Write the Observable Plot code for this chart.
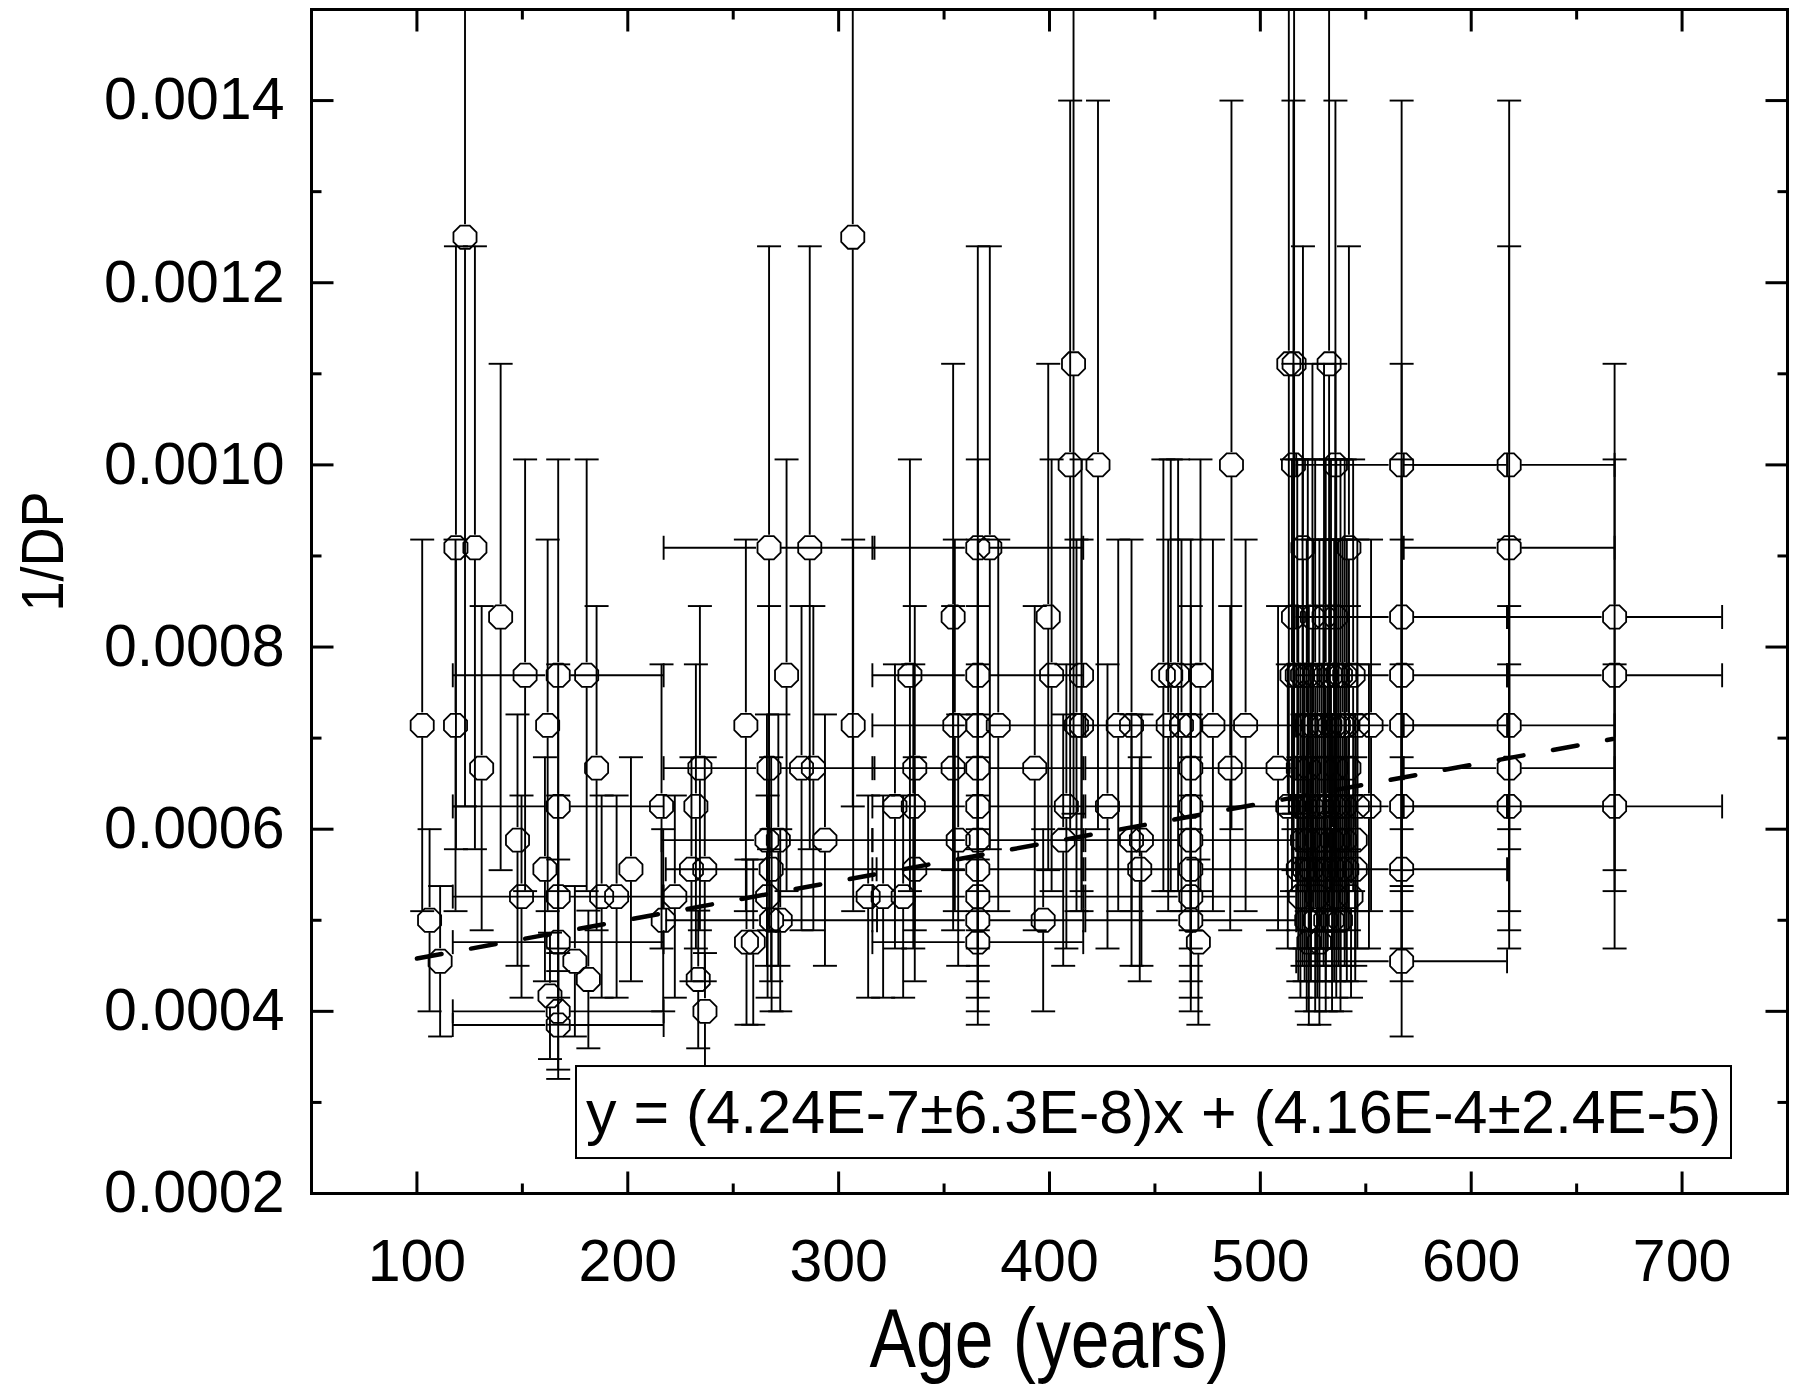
<!DOCTYPE html>
<html>
<head>
<meta charset="utf-8">
<script src="https://cdn.jsdelivr.net/npm/d3@7"></script>
<script src="https://cdn.jsdelivr.net/npm/@observablehq/plot@0.6"></script>
<style>
  html, body { margin: 0; padding: 0; background: #fff; }
</style>
</head>
<body>
<div id="chart"></div>
<script>
// ---------- data ----------
// Samples with a precise age (no horizontal error bar)
const sampleAge = [
  102.5, 106, 111, 118.5, 118.3, 122.8, 127.5, 130.7, 139.7, 147.7, 149.6, 151.3, 160.7, 162, 163.1,
  174.9, 180.5, 181.3, 185.2, 187.6, 194.7, 201.5, 216, 216.8, 222.3, 230.2, 232.3,
  233.4, 234.2, 236.5, 236.6, 256, 256.3, 259.5,
  271.4, 272.3, 275.3, 282.4, 286.3, 288, 293.5, 306.7, 306.9, 314, 321.1, 326.7, 330.6, 333.8, 335.4, 336.1, 336.1, 354.3, 354.3, 355.1, 356.7,
  371.7, 375.7, 393, 397, 399.4, 401, 406.5, 408, 409.8, 411.4, 412.8, 415.2, 415.2, 423, 427.5, 432.6, 438.9, 438.9, 443.6, 442.8, 454, 457.5, 461, 456.3, 462.6,
  470.6, 471.6, 477.5, 485.7, 486.3, 493, 508.4,
  513.5, 516, 532.6,
  515.7, 535.6,
  520.2, 542,
  515.7, 524.7, 530.2, 535.6,
  515, 517.5, 520, 522.5, 526, 531, 533.5, 536, 538, 540, 544,
  522, 525, 528, 530, 533, 535, 537, 539, 541, 546, 552.5,
  518, 523, 530, 536, 542,
  513, 519, 521, 524, 527, 529, 532, 535, 537, 540, 546, 551.5,
  520, 523, 527, 530, 534, 537, 540, 545,
  518, 521, 524, 528, 531, 535, 538, 541, 545,
  519, 527, 536, 543,
  522, 526, 531, 534, 538,
  523, 528
];
const sampleInvDP = [
  0.000714, 0.0005, 0.000455, 0.000909, 0.000714, 0.00125, 0.000909, 0.000667, 0.000833, 0.000588, 0.000526, 0.000769, 0.000556, 0.000714, 0.000417,
  0.000455, 0.000769, 0.000435, 0.000667, 0.000526, 0.000526, 0.000556, 0.000625, 0.0005, 0.000526, 0.000556, 0.000625,
  0.000435, 0.000667, 0.000556, 0.0004, 0.000714, 0.000476, 0.000476,
  0.000588, 0.0005, 0.000769, 0.000667, 0.000909, 0.000667, 0.000588, 0.00125, 0.000714, 0.000526, 0.000526, 0.000625, 0.000526, 0.000769, 0.000625, 0.000667, 0.000556, 0.000833, 0.000667, 0.000714, 0.000588,
  0.000909, 0.000714, 0.000667, 0.0005, 0.000833, 0.000769, 0.000588, 0.000625, 0.001, 0.001111, 0.000714, 0.000714, 0.000769, 0.001, 0.000625, 0.000714, 0.000714, 0.000588, 0.000588, 0.000556, 0.000769, 0.000769, 0.000769, 0.000714, 0.000714,
  0.000476, 0.000769, 0.000714, 0.000667, 0.001, 0.000714, 0.000667,
  0.001111, 0.001111, 0.001111,
  0.001, 0.001,
  0.000909, 0.000909,
  0.000833, 0.000833, 0.000833, 0.000833,
  0.000769, 0.000769, 0.000769, 0.000769, 0.000769, 0.000769, 0.000769, 0.000769, 0.000769, 0.000769, 0.000769,
  0.000714, 0.000714, 0.000714, 0.000714, 0.000714, 0.000714, 0.000714, 0.000714, 0.000714, 0.000714, 0.000714,
  0.000667, 0.000667, 0.000667, 0.000667, 0.000667,
  0.000625, 0.000625, 0.000625, 0.000625, 0.000625, 0.000625, 0.000625, 0.000625, 0.000625, 0.000625, 0.000625, 0.000625,
  0.000588, 0.000588, 0.000588, 0.000588, 0.000588, 0.000588, 0.000588, 0.000588,
  0.000556, 0.000556, 0.000556, 0.000556, 0.000556, 0.000556, 0.000556, 0.000556, 0.000556,
  0.000526, 0.000526, 0.000526, 0.000526,
  0.0005, 0.0005, 0.0005, 0.0005, 0.0005,
  0.000476, 0.000476
];

// Samples dated to an age range (horizontal error bar)
const groupAge = [
  167, 167, 167, 167, 167, 167,
  267, 267, 266, 268, 266.3, 268.2,
  366, 366, 366, 366, 366, 366, 366, 366, 366, 366,
  467, 467, 467, 467, 467, 467, 467,
  567, 567, 567, 567, 567, 567, 567,
  618, 618, 618, 618, 618,
  668, 668, 668
];
const groupInvDP = [
  0.000769, 0.000625, 0.000526, 0.000476, 0.0004, 0.000385,
  0.000909, 0.000667, 0.000588, 0.000556, 0.000526, 0.0005,
  0.000909, 0.000769, 0.000714, 0.000667, 0.000625, 0.000588, 0.000556, 0.000526, 0.0005, 0.000476,
  0.000714, 0.000667, 0.000625, 0.000588, 0.000556, 0.000526, 0.0005,
  0.001, 0.000833, 0.000769, 0.000714, 0.000625, 0.000556, 0.000455,
  0.001, 0.000909, 0.000714, 0.000667, 0.000625,
  0.000833, 0.000769, 0.000625
];
const groupAgeErr = [
  50, 50, 50, 50, 50, 50,
  50, 50, 50, 50, 50, 50,
  50, 50, 50, 50, 50, 50, 50, 50, 50, 50,
  50, 50, 50, 50, 50, 50, 50,
  50, 50, 50, 50, 50, 50, 50,
  50, 50, 50, 50, 50,
  51, 51, 51
];

const dpLevels   = [0.00125, 0.001111, 0.001, 0.000909, 0.000833, 0.000769, 0.000714, 0.000667, 0.000625, 0.000588, 0.000556, 0.000526, 0.0005, 0.000476, 0.000455, 0.000435, 0.000417, 0.0004, 0.000385];
const dpLevelErr = [0.000625, 0.000494, 0.0004, 0.000331, 0.000278, 0.000237, 0.000204, 0.000178, 0.000156, 0.000138, 0.000123, 0.000111, 0.0001, 0.0000907, 0.0000826, 0.0000756, 0.0000694, 0.000064, 0.0000592];

// Linear fit drawn across the data range
const fitAge = [100, 667];
const fitInvDP = [0.000458, 0.000699];
const fitLabel = "y = (4.24E-7\u00b16.3E-8)x + (4.16E-4\u00b12.4E-5)";

// Axes
const xDomain = [50, 750];
const yDomain = [0.0002, 0.0015];
const xMajorTicks = [100, 200, 300, 400, 500, 600, 700];
const xMinorTicks = [150, 250, 350, 450, 550, 650];
const yMajorTicks = [0.0002, 0.0004, 0.0006, 0.0008, 0.0010, 0.0012, 0.0014];
const yMinorTicks = [0.0003, 0.0005, 0.0007, 0.0009, 0.0011, 0.0013, 0.0015];
const xTitle = "Age (years)";
const yTitle = "1/DP";

// ---------- build ----------
const errOf = (v) => dpLevelErr[dpLevels.indexOf(v)];
const samples = sampleAge.map((a, i) => ({age: a, y: sampleInvDP[i], e: errOf(sampleInvDP[i]), ex: 0}));
const groups = groupAge.map((a, i) => ({age: a, y: groupInvDP[i], e: errOf(groupInvDP[i]), ex: groupAgeErr[i]}));
const points = samples.concat(groups);
const fitData = fitAge.map((a, i) => ({age: a, y: fitInvDP[i]}));

const rad = (size) => Math.sqrt(size / Math.PI);
const octagon = {draw(ctx, size) {
  const r = rad(size);
  for (let k = 0; k < 8; ++k) {
    const a = Math.PI / 8 + k * Math.PI / 4;
    const px = r * Math.cos(a), py = r * Math.sin(a);
    if (k === 0) ctx.moveTo(px, py); else ctx.lineTo(px, py);
  }
  ctx.closePath();
}};
const hCap = {draw(ctx, size) { const r = rad(size); ctx.moveTo(-r, 0); ctx.lineTo(r, 0); }};
const vCap = {draw(ctx, size) { const r = rad(size); ctx.moveTo(0, -r); ctx.lineTo(0, r); }};
const tickUp = {draw(ctx, size) { const r = rad(size); ctx.moveTo(0, 0); ctx.lineTo(0, -r); }};
const tickDown = {draw(ctx, size) { const r = rad(size); ctx.moveTo(0, 0); ctx.lineTo(0, r); }};
const tickRight = {draw(ctx, size) { const r = rad(size); ctx.moveTo(0, 0); ctx.lineTo(r, 0); }};
const tickLeft = {draw(ctx, size) { const r = rad(size); ctx.moveTo(0, 0); ctx.lineTo(-r, 0); }};

const SYM = 12.5;      // marker radius
const CAP = 12;        // half-width of caps
const EW = 1.9;        // error bar stroke width
const FONT = '"Liberation Sans", Arial, Helvetica, sans-serif';

const tickMarks = (vals, opts) => Plot.dot(vals, {fill: "none", stroke: "black", strokeWidth: 3, ...opts});

const plot = Plot.plot({
  width: 1794,
  height: 1396,
  marginLeft: 311,
  marginRight: 7,
  marginTop: 9,
  marginBottom: 203,
  style: {background: "white", fontFamily: FONT, color: "black"},
  x: {domain: xDomain},
  y: {domain: yDomain},
  marks: [
    // vertical error bars (gap at the symbol)
    Plot.ruleX(points, {x: "age", y1: d => d.y + d.e, y2: "y", insetBottom: SYM, stroke: "black", strokeWidth: EW, clip: true}),
    Plot.ruleX(points, {x: "age", y1: "y", y2: d => d.y - d.e, insetTop: SYM, stroke: "black", strokeWidth: EW, clip: true}),
    Plot.dot(points, {x: "age", y: d => d.y + d.e, symbol: hCap, r: CAP, fill: "none", stroke: "black", strokeWidth: EW, clip: true}),
    Plot.dot(points, {x: "age", y: d => d.y - d.e, symbol: hCap, r: CAP, fill: "none", stroke: "black", strokeWidth: EW, clip: true}),
    // horizontal error bars
    Plot.ruleY(groups, {y: "y", x1: d => d.age - d.ex, x2: "age", insetRight: SYM, stroke: "black", strokeWidth: EW, clip: true}),
    Plot.ruleY(groups, {y: "y", x1: "age", x2: d => d.age + d.ex, insetLeft: SYM, stroke: "black", strokeWidth: EW, clip: true}),
    Plot.dot(groups, {x: d => d.age - d.ex, y: "y", symbol: vCap, r: CAP, fill: "none", stroke: "black", strokeWidth: EW, clip: true}),
    Plot.dot(groups, {x: d => d.age + d.ex, y: "y", symbol: vCap, r: CAP, fill: "none", stroke: "black", strokeWidth: EW, clip: true}),
    // symbols
    Plot.dot(points, {x: "age", y: "y", symbol: octagon, r: SYM, fill: "none", stroke: "black", strokeWidth: 1.8}),
    // linear fit
    Plot.line(fitData, {x: "age", y: "y", stroke: "black", strokeWidth: 4.5, strokeDasharray: "25,30"}),
    // inward ticks on all four sides
    tickMarks(xMajorTicks, {x: d => d, y: yDomain[0], symbol: tickUp, r: 22}),
    tickMarks(xMinorTicks, {x: d => d, y: yDomain[0], symbol: tickUp, r: 10}),
    tickMarks(xMajorTicks, {x: d => d, y: yDomain[1], symbol: tickDown, r: 22}),
    tickMarks(xMinorTicks, {x: d => d, y: yDomain[1], symbol: tickDown, r: 10}),
    tickMarks(yMajorTicks, {y: d => d, x: xDomain[0], symbol: tickRight, r: 22}),
    tickMarks(yMinorTicks, {y: d => d, x: xDomain[0], symbol: tickRight, r: 10}),
    tickMarks(yMajorTicks, {y: d => d, x: xDomain[1], symbol: tickLeft, r: 22}),
    tickMarks(yMinorTicks, {y: d => d, x: xDomain[1], symbol: tickLeft, r: 10}),
    Plot.frame({stroke: "black", strokeWidth: 3}),
    // tick labels
    Plot.axisX({ticks: xMajorTicks, tickSize: 0, tickPadding: 46, fontSize: 59, label: null, tickFormat: d3.format("d")}),
    Plot.axisY({ticks: yMajorTicks, tickSize: 0, tickPadding: 27, fontSize: 59, label: null, tickFormat: d3.format(".4f")}),
    // axis titles
    Plot.text([xTitle], {frameAnchor: "bottom", dy: 147, fontSize: 84, textAnchor: "middle", lineAnchor: "middle", fill: "black"}),
    Plot.text([yTitle], {frameAnchor: "left", dx: -268, dy: -50, rotate: -90, fontSize: 60, textAnchor: "middle", lineAnchor: "middle", fill: "black"}),
    // fit equation
    Plot.text([fitLabel], {frameAnchor: "bottom", dx: 104, dy: -80, fontSize: 61, textAnchor: "middle", lineAnchor: "middle", fill: "black"})
  ]
});

document.getElementById("chart").append(plot);

// post-render styling: condensed axis titles and the box around the fit equation
const findText = (s) => Array.from(plot.querySelectorAll("text")).find(t => t.textContent === s);
const condense = (s, len) => {
  const t = findText(s);
  if (t) { t.setAttribute("textLength", len); t.setAttribute("lengthAdjust", "spacingAndGlyphs"); }
};
condense(xTitle, 360);
condense(yTitle, 120);

const labelText = findText(fitLabel);
if (labelText) {
  const bb = labelText.getBBox();
  const rect = document.createElementNS("http://www.w3.org/2000/svg", "rect");
  rect.setAttribute("x", bb.x - 10);
  rect.setAttribute("y", bb.y - 12);
  rect.setAttribute("width", bb.width + 20);
  rect.setAttribute("height", bb.height + 24);
  rect.setAttribute("fill", "white");
  rect.setAttribute("stroke", "black");
  rect.setAttribute("stroke-width", 2);
  const tr = labelText.getAttribute("transform");
  if (tr) rect.setAttribute("transform", tr);
  labelText.parentNode.insertBefore(rect, labelText);
}
</script>
</body>
</html>
